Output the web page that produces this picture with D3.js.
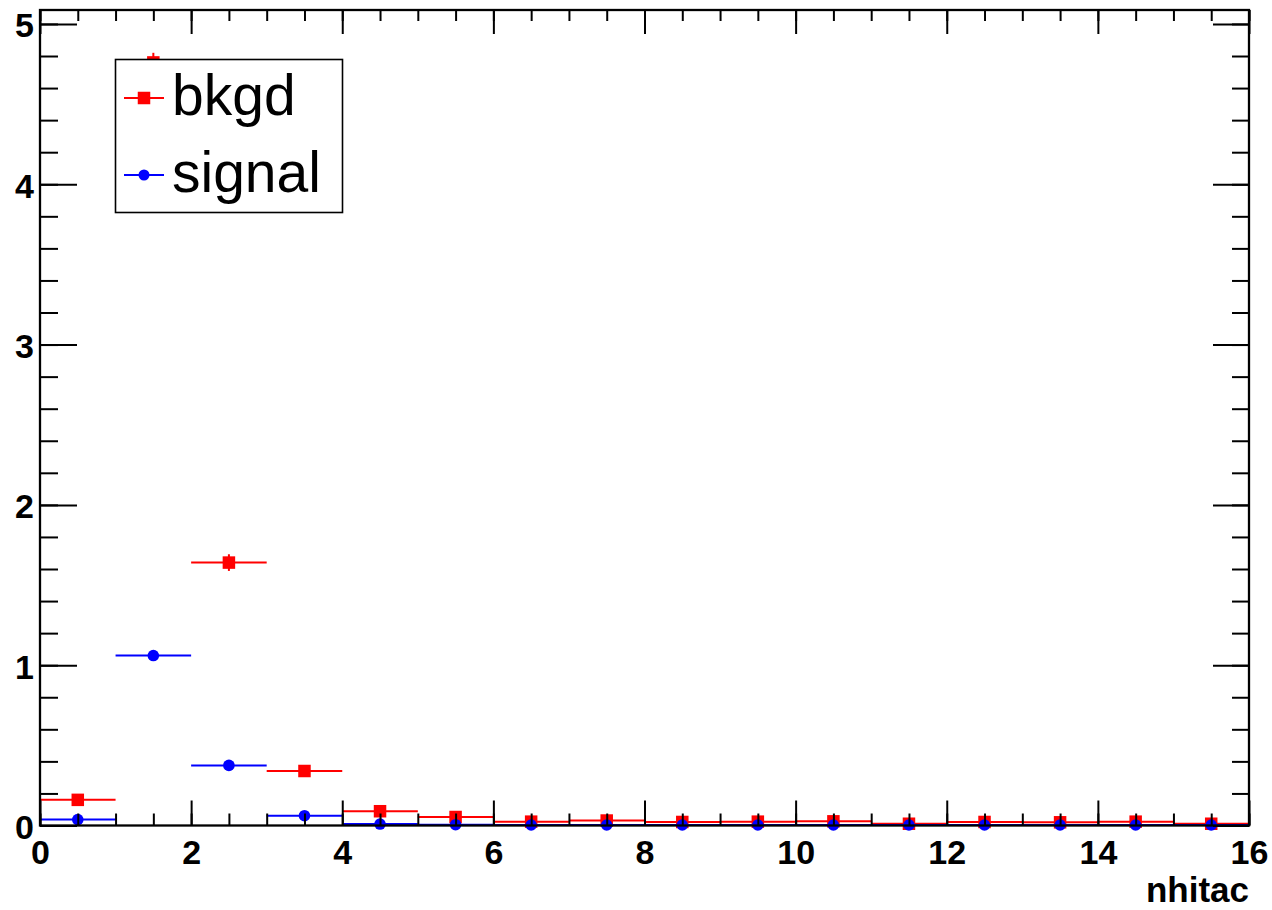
<!DOCTYPE html>
<html>
<head>
<meta charset="utf-8">
<script src="https://cdn.jsdelivr.net/npm/d3@7"></script>
<style>
  html, body { margin: 0; padding: 0; background: #fff; }
  svg { display: block; }
  text { font-family: "Liberation Sans", Arial, Helvetica, sans-serif; }
</style>
</head>
<body>
<svg id="chart" width="1272" height="910"></svg>
<script>
// ---- data ----
const binCenters = [0.5, 1.5, 2.5, 3.5, 4.5, 5.5, 6.5, 7.5, 8.5, 9.5, 10.5, 11.5, 12.5, 13.5, 14.5, 15.5];
const bkgdValues = [0.16, 4.76, 1.64, 0.34, 0.089, 0.053, 0.024, 0.031, 0.022, 0.024, 0.026, 0.011, 0.022, 0.020, 0.024, 0.011];
const bkgdErrors = [0.012, 0.06, 0.052, 0.025, 0.012, 0.010, 0.007, 0.008, 0.007, 0.007, 0.008, 0.005, 0.007, 0.007, 0.007, 0.005];
const signalValues = [0.037, 1.06, 0.375, 0.061, 0.009, 0.005, 0.003, 0.003, 0.003, 0.003, 0.003, 0.003, 0.003, 0.003, 0.003, 0.003];
const signalErrors = [0.005, 0.025, 0.015, 0.006, 0.002, 0.002, 0.001, 0.001, 0.001, 0.001, 0.001, 0.001, 0.001, 0.001, 0.001, 0.001];
const binWidth = 1;
const xMajorTicks = [0, 2, 4, 6, 8, 10, 12, 14, 16];
const xTickLabels = ["0", "2", "4", "6", "8", "10", "12", "14", "16"];
const yMajorTicks = [0, 1, 2, 3, 4, 5];
const yTickLabels = ["0", "1", "2", "3", "4", "5"];
const xTitle = "nhitac";
const legendNames = ["bkgd", "signal"];
const legendColors = ["#ff0000", "#0000ff"];
const legendShapes = ["square", "circle"];

// ---- layout ----
const svg = d3.select("#chart");
const L = 40, R = 1249, T = 10, B = 825.5;
const x = d3.scaleLinear().domain([0, 16]).range([L, R]);
const y = d3.scaleLinear().domain([0, 5.087]).range([B, T]);

const xMinor = d3.range(0, 16.001, 0.5);
const yMinor = d3.range(0, 5.0001, 0.2);

// ---- data marks ----
const plot = svg.append("g");
function drawSeries(vals, errs, color, shape) {
  const g = plot.append("g");
  const data = binCenters.map((c, i) => ({ c, v: vals[i], e: errs[i] }));
  g.selectAll("line.h").data(data).enter().append("line")
    .attr("x1", d => x(d.c - binWidth / 2)).attr("x2", d => x(d.c + binWidth / 2))
    .attr("y1", d => y(d.v)).attr("y2", d => y(d.v))
    .attr("stroke", color).attr("stroke-width", 2);
  g.selectAll("line.v").data(data).enter().append("line")
    .attr("x1", d => x(d.c)).attr("x2", d => x(d.c))
    .attr("y1", d => y(d.v - d.e)).attr("y2", d => y(d.v + d.e))
    .attr("stroke", color).attr("stroke-width", 2);
  if (shape === "square") {
    g.selectAll("rect").data(data).enter().append("rect")
      .attr("x", d => x(d.c) - 6.25).attr("y", d => y(d.v) - 6.25)
      .attr("width", 12.5).attr("height", 12.5).attr("fill", color);
  } else {
    g.selectAll("circle").data(data).enter().append("circle")
      .attr("cx", d => x(d.c)).attr("cy", d => y(d.v))
      .attr("r", 5.8).attr("fill", color);
  }
}
drawSeries(bkgdValues, bkgdErrors, legendColors[0], legendShapes[0]);
drawSeries(signalValues, signalErrors, legendColors[1], legendShapes[1]);

// ---- axes ----
function styleAxis(g) {
  g.select(".domain").remove();
  g.selectAll(".tick line").attr("stroke", "#000").attr("stroke-width", 2);
}
const labelSize = 34;
// bottom
const xb = svg.append("g").attr("transform", `translate(0,${B})`)
  .call(d3.axisBottom(x).tickValues(xMinor).tickSize(-12).tickFormat(""));
styleAxis(xb);
const xbMaj = svg.append("g").attr("transform", `translate(0,${B})`)
  .call(d3.axisBottom(x).tickValues(xMajorTicks).tickSize(-25)
    .tickFormat((d, i) => xTickLabels[i]));
styleAxis(xbMaj);
xbMaj.selectAll(".tick text").attr("font-size", labelSize).attr("font-weight", "bold")
  .attr("fill", "#000").attr("y", 38.5).attr("dy", 0);
// top
const xt = svg.append("g").attr("transform", `translate(0,${T})`)
  .call(d3.axisTop(x).tickValues(xMinor).tickSize(-11).tickFormat(""));
styleAxis(xt);
const xtMaj = svg.append("g").attr("transform", `translate(0,${T})`)
  .call(d3.axisTop(x).tickValues(xMajorTicks).tickSize(-24).tickFormat(""));
styleAxis(xtMaj);
// left
const yl = svg.append("g").attr("transform", `translate(${L},0)`)
  .call(d3.axisLeft(y).tickValues(yMinor).tickSize(-18).tickFormat(""));
styleAxis(yl);
const ylMaj = svg.append("g").attr("transform", `translate(${L},0)`)
  .call(d3.axisLeft(y).tickValues(yMajorTicks).tickSize(-37)
    .tickFormat((d, i) => yTickLabels[i]));
styleAxis(ylMaj);
ylMaj.selectAll(".tick text").attr("font-size", labelSize).attr("font-weight", "bold")
  .attr("fill", "#000").attr("x", -6).attr("dy", "0.38em").attr("text-anchor", "end");
// right
const yr = svg.append("g").attr("transform", `translate(${R},0)`)
  .call(d3.axisRight(y).tickValues(yMinor).tickSize(-17).tickFormat(""));
styleAxis(yr);
const yrMaj = svg.append("g").attr("transform", `translate(${R},0)`)
  .call(d3.axisRight(y).tickValues(yMajorTicks).tickSize(-36).tickFormat(""));
styleAxis(yrMaj);

// frame
svg.append("rect").attr("x", L).attr("y", T).attr("width", R - L).attr("height", B - T)
  .attr("fill", "none").attr("stroke", "#000").attr("stroke-width", 2.3);

// axis title
svg.append("text").attr("x", R).attr("y", 902).attr("text-anchor", "end")
  .attr("font-size", 35).attr("font-weight", "bold").attr("fill", "#000").text(xTitle);

// ---- legend ----
const lg = svg.append("g");
lg.append("rect").attr("x", 115.5).attr("y", 59.5).attr("width", 227).attr("height", 153)
  .attr("fill", "#fff").attr("stroke", "#000").attr("stroke-width", 1.6);
const entryY = [98, 175];
legendNames.forEach((name, i) => {
  const cy = entryY[i];
  lg.append("line").attr("x1", 124).attr("x2", 164).attr("y1", cy).attr("y2", cy)
    .attr("stroke", legendColors[i]).attr("stroke-width", 2);
  if (legendShapes[i] === "square") {
    lg.append("rect").attr("x", 144 - 6.25).attr("y", cy - 6.25).attr("width", 12.5).attr("height", 12.5)
      .attr("fill", legendColors[i]);
  } else {
    lg.append("circle").attr("cx", 144).attr("cy", cy).attr("r", 5.5).attr("fill", legendColors[i]);
  }
  lg.append("text").attr("x", 172).attr("y", cy + 17).attr("font-size", 57)
    .attr("fill", "#000").text(name);
});
</script>
</body>
</html>
